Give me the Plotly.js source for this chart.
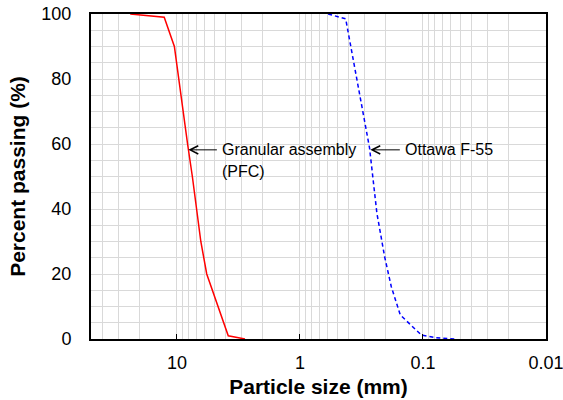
<!DOCTYPE html>
<html>
<head>
<meta charset="utf-8">
<script src="https://cdn.plot.ly/plotly-3.0.1.min.js"></script>
<style>html,body{margin:0;padding:0;background:#fff;}#chart{width:563px;height:400px;}</style>
</head>
<body>
<div id="chart"></div>
<script>
// Granular assembly (PFC) gradation
const pfcSize = [24, 12.7, 10.5, 9.7, 8.2, 7.5, 6.9, 6.4, 5.73, 4.63, 3.83, 2.8];
const pfcPassing = [100, 99, 90, 80, 60, 50, 40, 30, 20, 10, 1, 0];
// Ottawa F-55 gradation
const ottawaSize = [0.59, 0.425, 0.272, 0.255, 0.237, 0.205, 0.181, 0.153, 0.129, 0.103, 0.078, 0.055];
const ottawaPassing = [100, 98.5, 58.8, 49.5, 38.7, 25.3, 16.1, 7.4, 4.8, 1.2, 0.4, 0];
// axis ticks
const xTickVals = [10, 1, 0.1, 0.01];
const xTickText = ["10", "1", "0.1", "0.01"];
const xMinorVals = [40, 30, 20, 9, 8, 7, 6, 5, 4, 3, 2, 0.9, 0.8, 0.7, 0.6, 0.5, 0.4, 0.3, 0.2,
  0.09, 0.08, 0.07, 0.06, 0.05, 0.04, 0.03, 0.02];
const yTickVals = [0, 20, 40, 60, 80, 100];

const gridColor = '#d9d9d9';
const font = 'Arial, "Liberation Sans", sans-serif';

const traces = [
  {x: pfcSize, y: pfcPassing, type: 'scatter', mode: 'lines', name: 'Granular assembly (PFC)',
   line: {color: '#ff0000', width: 1.5}},
  {x: ottawaSize, y: ottawaPassing, type: 'scatter', mode: 'lines', name: 'Ottawa F-55',
   line: {color: '#0000ff', width: 1.5, dash: '4px,3px'}}
];

const layout = {
  width: 563, height: 400,
  margin: {l: 91, r: 17, t: 14, b: 61},
  paper_bgcolor: '#ffffff', plot_bgcolor: '#ffffff',
  showlegend: false,
  font: {family: font, color: '#000000'},
  xaxis: {
    type: 'log', range: [Math.log10(50), -2],
    tickvals: xTickVals, ticktext: xTickText,
    ticks: 'inside', ticklen: 5, tickwidth: 1, tickcolor: '#000',
    ticklabeloverflow: 'allow',
    showgrid: true, gridcolor: gridColor, gridwidth: 1,
    minor: {tickvals: xMinorVals, showgrid: true, gridcolor: gridColor, gridwidth: 1, ticks: ''},
    showline: true, linecolor: '#000', linewidth: 2, mirror: true,
    zeroline: false,
    tickfont: {size: 18, family: font, color: '#000'},
    ticklabelstandoff: 6,
    title: {text: '<b>Particle size (mm)</b>', font: {size: 21, family: font, color: '#000'}, standoff: 8}
  },
  yaxis: {
    range: [0, 100], tickvals: yTickVals,
    ticks: '', showgrid: true, gridcolor: gridColor, gridwidth: 1,
    minor: {dtick: 5, showgrid: true, gridcolor: gridColor, gridwidth: 1, ticks: ''},
    showline: true, linecolor: '#000', linewidth: 2, mirror: true,
    zeroline: false,
    tickfont: {size: 18, family: font, color: '#000'},
    ticklabelstandoff: 14,
    title: {text: '<b>Percent passing (%)</b>', font: {size: 21, family: font, color: '#000'}, standoff: 10}
  },
  annotations: [
    {x: Math.log10(8.08), y: 58.2, xref: 'x', yref: 'y', text: '', showarrow: true,
     arrowhead: 5, arrowsize: 1.6, arrowwidth: 1, arrowcolor: '#000', ax: 30, ay: 0},
    {x: Math.log10(8.08), y: 58.2, xref: 'x', yref: 'y', text: 'Granular assembly', showarrow: false,
     xanchor: 'left', yanchor: 'middle', xshift: 32, font: {size: 16, family: font, color: '#000'}},
    {x: Math.log10(8.08), y: 58.2, xref: 'x', yref: 'y', text: '(PFC)', showarrow: false,
     xanchor: 'left', yanchor: 'middle', xshift: 32, yshift: -22, font: {size: 16, family: font, color: '#000'}},
    {x: Math.log10(0.268), y: 58.2, xref: 'x', yref: 'y', text: '', showarrow: true,
     arrowhead: 5, arrowsize: 1.6, arrowwidth: 1, arrowcolor: '#000', ax: 31, ay: 0},
    {x: Math.log10(0.268), y: 58.2, xref: 'x', yref: 'y', text: 'Ottawa F-55', showarrow: false,
     xanchor: 'left', yanchor: 'middle', xshift: 33, font: {size: 16, family: font, color: '#000'}}
  ]
};

Plotly.newPlot('chart', traces, layout, {displayModeBar: false, staticPlot: true});
</script>
</body>
</html>
